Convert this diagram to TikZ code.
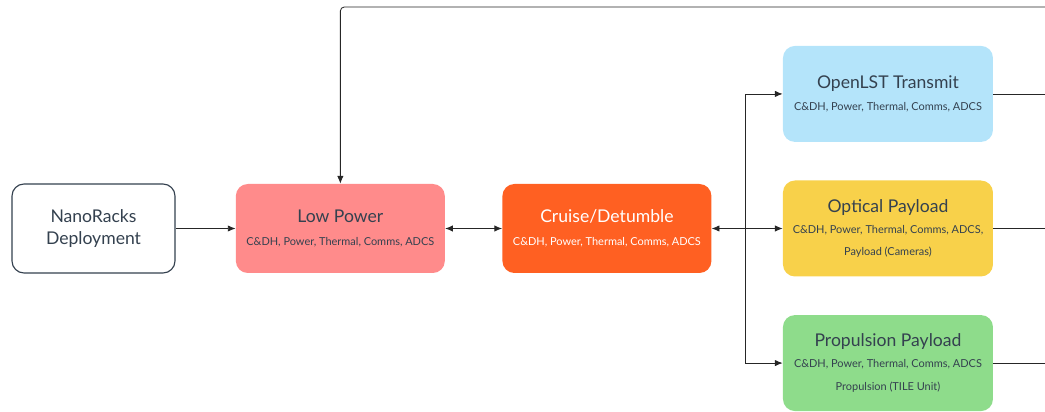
\documentclass[tikz,border=0pt]{standalone}
\usepackage{fontspec}
\setmainfont{Lato}
\usetikzlibrary{positioning, arrows.meta}

\definecolor{slatetext}{HTML}{34414F}
\definecolor{lowred}{HTML}{FF8B8B}
\definecolor{cruiseorange}{HTML}{FF6022}
\definecolor{lstblue}{HTML}{B4E4FA}
\definecolor{optyellow}{HTML}{F8D14A}
\definecolor{propgreen}{HTML}{8EDC8B}

\newcommand{\modetitle}[1]{{\fontsize{12.5}{15}\selectfont #1}}
\newcommand{\modesub}[1]{{\fontsize{7.8}{9}\selectfont #1}}

\begin{document}
\begin{tikzpicture}[
  node distance=0.95cm and 1.5cm,
  modebox/.style={rectangle, rounded corners=0.3cm, minimum width=5.225cm, minimum height=2.225cm, align=center, inner sep=0pt, text=slatetext},
  payloadbox/.style={modebox, minimum width=5.25cm, minimum height=2.4cm},
  arrow/.style={-{Latex[length=5.5pt,width=4.5pt]}, semithick, draw=black!85},
  link/.style={semithick, draw=black!85}
]
\useasboundingbox (0,0) rectangle (26.125,10.275);

% Left chain
\node[modebox, draw=slatetext, thick, fill=white, minimum width=4.075cm] (nanoracks) at (2.3375,4.5625) {\modetitle{NanoRacks}\\[3pt]\modetitle{Deployment}};
\node[modebox, fill=lowred, right=1.5cm of nanoracks] (lowpower) {\modetitle{Low Power}\\[4pt]\modesub{C\&DH, Power, Thermal, Comms, ADCS}};
\node[modebox, fill=cruiseorange, text=white, right=1.425cm of lowpower] (cruise) {\modetitle{Cruise/Detumble}\\[4pt]\modesub{C\&DH, Power, Thermal, Comms, ADCS}};

% Payload modes
\node[payloadbox, fill=optyellow, right=1.775cm of cruise] (optical) {\modetitle{Optical Payload}\\[3pt]\modesub{C\&DH, Power, Thermal, Comms, ADCS,}\\[4pt]\modesub{Payload (Cameras)}};
\node[payloadbox, fill=lstblue, above=of optical] (openlst) {\modetitle{OpenLST Transmit}\\[4pt]\modesub{C\&DH, Power, Thermal, Comms, ADCS}};
\node[payloadbox, fill=propgreen, below=of optical] (propulsion) {\modetitle{Propulsion Payload}\\[3pt]\modesub{C\&DH, Power, Thermal, Comms, ADCS}\\[4pt]\modesub{Propulsion (TILE Unit)}};

% Branch point and right edge
\coordinate (branch) at (18.625,4.5625);
\coordinate (topright) at (26.125,10.1);

% Arrows
\draw[arrow] (nanoracks) -- (lowpower);
\draw[arrow, {Latex[length=5.5pt,width=4.5pt]}-{Latex[length=5.5pt,width=4.5pt]}] (lowpower) -- (cruise);
\draw[arrow] (branch) -- (cruise.east);
\draw[arrow] (branch) |- (openlst.west);
\draw[arrow] (branch) -- (optical.west);
\draw[arrow] (branch) |- (propulsion.west);
\draw[link] (openlst.east) -- (openlst.east -| topright);
\draw[link] (optical.east) -- (optical.east -| topright);
\draw[link] (propulsion.east) -- (propulsion.east -| topright);
\draw[arrow, rounded corners=0.1cm] (topright) -| (lowpower.north);

\end{tikzpicture}
\end{document}
